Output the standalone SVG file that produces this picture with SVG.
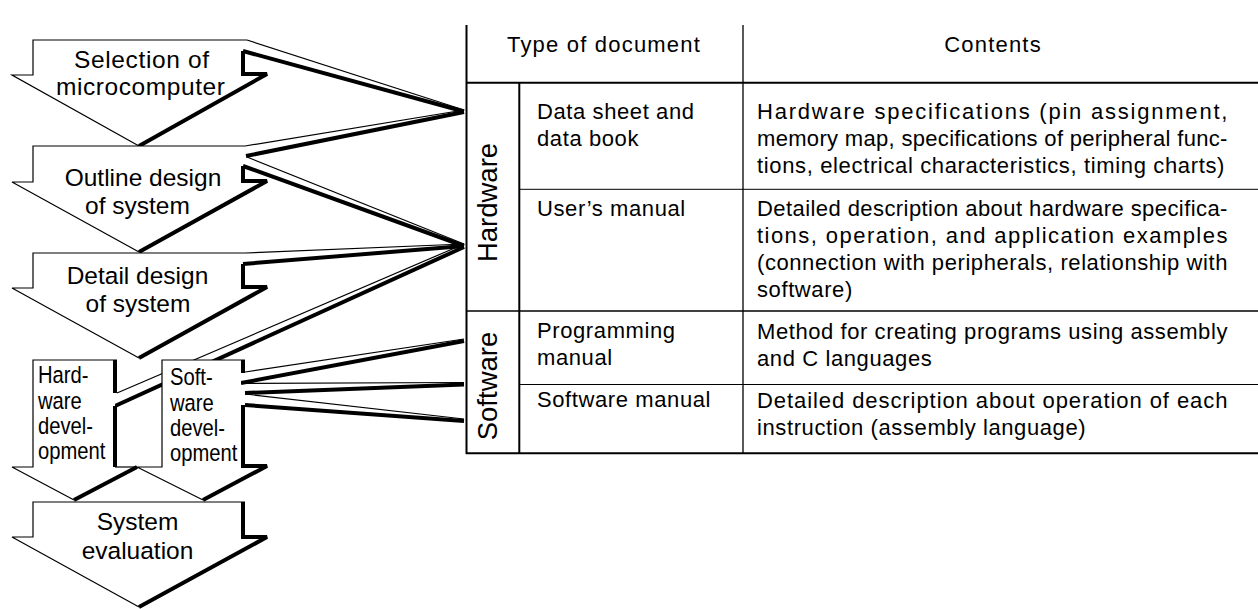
<svg xmlns="http://www.w3.org/2000/svg" width="1258" height="609" viewBox="0 0 1258 609">
<style>
.bg{fill:#fff;stroke:none}
.thin{fill:none;stroke:#000;stroke-width:1.2;stroke-linejoin:miter}
.thick{fill:none;stroke:#000;stroke-width:4;stroke-linejoin:miter;stroke-miterlimit:2}
.big{font-family:"Liberation Sans",Arial,sans-serif;font-size:24.5px;text-anchor:middle;fill:#000}
.small{font-family:"Liberation Sans",Arial,sans-serif;font-size:23.5px;fill:#000}
.tb{font-family:"Liberation Sans",Arial,sans-serif;font-size:22px;letter-spacing:0.6px;fill:#000}
.hd{font-family:"Liberation Sans",Arial,sans-serif;font-size:22px;letter-spacing:1.2px;text-anchor:middle;fill:#000}
.vt{font-family:"Liberation Sans",Arial,sans-serif;font-size:27.5px;text-anchor:middle;fill:#000}
.tl{stroke:#000;fill:none}
</style>
<rect width="1258" height="609" fill="#fff"/>

<g id="connectors">
  <line class="thin" x1="247" y1="40" x2="464" y2="110"/>
  <line class="thick" x1="464" y1="111.5" x2="243" y2="51"/>
  <line class="thin" x1="245" y1="146" x2="464" y2="110"/>
  <line class="thick" x1="464" y1="112" x2="246" y2="156"/>
  <line class="thin" x1="247" y1="157" x2="464" y2="244"/>
  <line class="thick" x1="464" y1="246" x2="243" y2="166"/>
  <line class="thin" x1="245" y1="253" x2="464" y2="244"/>
  <line class="thick" x1="464" y1="246" x2="243" y2="264"/>
  <line class="thin" x1="117" y1="393" x2="464" y2="244"/>
  <line class="thick" x1="464" y1="247" x2="115" y2="406"/>
  <line class="thin" x1="245" y1="372" x2="464" y2="339"/>
  <line class="thick" x1="464" y1="341" x2="241" y2="383"/>
  <line class="thin" x1="240" y1="383.5" x2="464" y2="382.5"/>
  <line class="thick" x1="464" y1="384.5" x2="245" y2="393"/>
  <line class="thin" x1="245" y1="394" x2="464" y2="419"/>
  <line class="thick" x1="464" y1="421" x2="245" y2="405"/>
</g>

<g id="selection">
  <polygon class="bg" points="33,40 242,40 242,75 266,75 139,146 12,75 33,75"/>
  <polyline class="thin" points="247,40 33,40 33,75 12,75 139,146"/>
  <polyline class="thick" points="243,51 243,74 267,74 139,146"/>
  <text class="big" x="141.5" y="68" textLength="135" lengthAdjust="spacing">Selection of</text>
  <text class="big" x="140.5" y="95" textLength="169" lengthAdjust="spacing">microcomputer</text>
</g>

<g id="outline">
  <polygon class="bg" points="33,146 242,146 242,182 266,182 139,252 12,182 33,182"/>
  <polyline class="thin" points="245,146 33,146 33,182 12,182 139,252"/>
  <polyline class="thick" points="243,166 243,181 267,181 139,252"/>
  <text class="big" x="143" y="186">Outline design</text>
  <text class="big" x="137.5" y="214">of system</text>
</g>

<g id="detail">
  <polygon class="bg" points="33,253 242,253 242,288 266,288 139,358 12,288 33,288"/>
  <polyline class="thin" points="245,253 33,253 33,288 12,288 139,358"/>
  <polyline class="thick" points="243,264 243,287 267,287 139,358"/>
  <text class="big" x="137.5" y="284">Detail design</text>
  <text class="big" x="138" y="312">of system</text>
</g>

<g id="hardware-dev">
  <polygon class="bg" points="33,360 115,360 115,467 137,467 74,500 12,467 33,467"/>
  <polyline class="thin" points="117,360 33,360 33,467 12,467 74,500"/>
  <line class="thin" x1="115" y1="467" x2="137" y2="467"/>
  <polyline class="thick" points="115,360 115,393"/>
  <polyline class="thick" points="115,406 115,467"/>
  <line class="thick" x1="137" y1="467" x2="74" y2="500"/>
  <text class="small" transform="translate(38,383) scale(0.86,1)">Hard-</text>
  <text class="small" transform="translate(38,409) scale(0.86,1)">ware</text>
  <text class="small" transform="translate(38,434) scale(0.86,1)">devel-</text>
  <text class="small" transform="translate(38,459) scale(0.86,1)">opment</text>
</g>

<g id="software-dev">
  <polygon class="bg" points="162,360 241,360 241,467 266,467 203,500 137,467 162,467"/>
  <polyline class="thin" points="245,360 162,360 162,467 137,467 203,500"/>
  <polyline class="thick" points="243,360 243,373"/>
  <polyline class="thick" points="243,405 243,466 267,466 203,500"/>
  <text class="small" transform="translate(170,385) scale(0.86,1)">Soft-</text>
  <text class="small" transform="translate(170,411) scale(0.86,1)">ware</text>
  <text class="small" transform="translate(170,436) scale(0.86,1)">devel-</text>
  <text class="small" transform="translate(170,461) scale(0.86,1)">opment</text>
</g>

<g id="evaluation">
  <polygon class="bg" points="33,502 242,502 242,537 266,537 139,607 12,537 33,537"/>
  <polyline class="thin" points="245,502 33,502 33,537 12,537 139,607"/>
  <polyline class="thick" points="243,502 243,537 267,537 139,607"/>
  <text class="big" x="137.5" y="530">System</text>
  <text class="big" x="137.5" y="559">evaluation</text>
</g>

<g id="table">
  <line class="tl" stroke-width="2" x1="466.5" y1="25" x2="466.5" y2="454"/>
  <line class="tl" stroke-width="1.3" x1="743" y1="25" x2="743" y2="453"/>
  <line class="tl" stroke-width="2" x1="466" y1="82.7" x2="1258" y2="82.7"/>
  <line class="tl" stroke-width="2" x1="519.3" y1="82.7" x2="519.3" y2="453"/>
  <line class="tl" stroke-width="1" x1="519" y1="189.3" x2="1258" y2="189.3"/>
  <line class="tl" stroke-width="1.3" x1="466" y1="311" x2="1258" y2="311"/>
  <line class="tl" stroke-width="1" x1="519" y1="384.5" x2="1258" y2="384.5"/>
  <line class="tl" stroke-width="2" x1="466" y1="453.3" x2="1258" y2="453.3"/>

  <text class="hd" x="604" y="52">Type of document</text>
  <text class="hd" x="993" y="52">Contents</text>

  <text class="vt" transform="translate(497,202.5) rotate(-90)">Hardware</text>
  <text class="vt" transform="translate(497,386) rotate(-90)">Software</text>

  <text class="tb" x="537" y="119">Data sheet and</text>
  <text class="tb" x="537" y="146">data book</text>
  <text class="tb" x="537" y="216">User’s manual</text>
  <text class="tb" x="537" y="338">Programming</text>
  <text class="tb" x="537" y="365">manual</text>
  <text class="tb" x="537" y="407">Software manual</text>

  <text class="tb" x="757" y="119" textLength="471" lengthAdjust="spacing">Hardware specifications (pin assignment,</text>
  <text class="tb" x="757" y="146" textLength="471" lengthAdjust="spacing">memory map, specifications of peripheral func-</text>
  <text class="tb" x="757" y="173" textLength="468" lengthAdjust="spacing">tions, electrical characteristics, timing charts)</text>
  <text class="tb" x="757" y="216" textLength="471" lengthAdjust="spacing">Detailed description about hardware specifica-</text>
  <text class="tb" x="757" y="243" textLength="471" lengthAdjust="spacing">tions, operation, and application examples</text>
  <text class="tb" x="757" y="270" textLength="471" lengthAdjust="spacing">(connection with peripherals, relationship with</text>
  <text class="tb" x="757" y="297">software)</text>
  <text class="tb" x="757" y="339" textLength="471" lengthAdjust="spacing">Method for creating programs using assembly</text>
  <text class="tb" x="757" y="366">and C languages</text>
  <text class="tb" x="757" y="408" textLength="471" lengthAdjust="spacing">Detailed description about operation of each</text>
  <text class="tb" x="757" y="435">instruction (assembly language)</text>
</g>
</svg>
